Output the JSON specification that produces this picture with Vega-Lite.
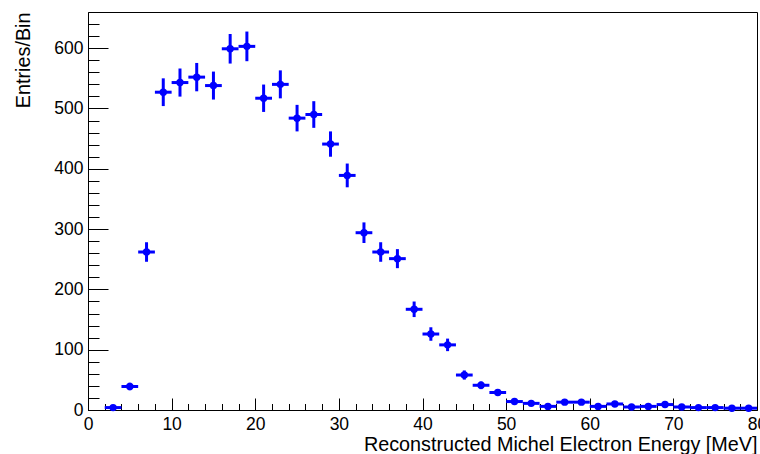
{
  "$schema": "https://vega.github.io/schema/vega-lite/v6.json",
  "width": 669,
  "height": 398,
  "autosize": {"type": "none"},
  "padding": {"left": 88, "top": 12, "right": 3, "bottom": 44},
  "background": "white",
  "config": {
    "font": "Liberation Sans",
    "view": {"stroke": "#000", "strokeWidth": 1},
    "axis": {
      "domainColor": "#000",
      "domainWidth": 1,
      "tickColor": "#000",
      "tickWidth": 1,
      "labelColor": "#000",
      "titleColor": "#000",
      "labelFont": "Liberation Sans",
      "titleFont": "Liberation Sans",
      "labelFontSize": 17.5,
      "titleFontSize": 19.8,
      "titleFontWeight": "normal",
      "grid": false
    }
  },
  "data": {
    "values": [
      {"e": 3, "elo": 2, "ehi": 4, "n": 4, "err": 2.0},
      {"e": 5, "elo": 4, "ehi": 6, "n": 39, "err": 6.2},
      {"e": 7, "elo": 6, "ehi": 8, "n": 262, "err": 16.2},
      {"e": 9, "elo": 8, "ehi": 10, "n": 527, "err": 23.0},
      {"e": 11, "elo": 10, "ehi": 12, "n": 543, "err": 23.3},
      {"e": 13, "elo": 12, "ehi": 14, "n": 552, "err": 23.5},
      {"e": 15, "elo": 14, "ehi": 16, "n": 538, "err": 23.2},
      {"e": 17, "elo": 16, "ehi": 18, "n": 599, "err": 24.5},
      {"e": 19, "elo": 18, "ehi": 20, "n": 603, "err": 24.6},
      {"e": 21, "elo": 20, "ehi": 22, "n": 517, "err": 22.7},
      {"e": 23, "elo": 22, "ehi": 24, "n": 540, "err": 23.2},
      {"e": 25, "elo": 24, "ehi": 26, "n": 484, "err": 22.0},
      {"e": 27, "elo": 26, "ehi": 28, "n": 490, "err": 22.1},
      {"e": 29, "elo": 28, "ehi": 30, "n": 441, "err": 21.0},
      {"e": 31, "elo": 30, "ehi": 32, "n": 389, "err": 19.7},
      {"e": 33, "elo": 32, "ehi": 34, "n": 294, "err": 17.1},
      {"e": 35, "elo": 34, "ehi": 36, "n": 262, "err": 16.2},
      {"e": 37, "elo": 36, "ehi": 38, "n": 251, "err": 15.8},
      {"e": 39, "elo": 38, "ehi": 40, "n": 167, "err": 12.9},
      {"e": 41, "elo": 40, "ehi": 42, "n": 126, "err": 11.2},
      {"e": 43, "elo": 42, "ehi": 44, "n": 108, "err": 10.4},
      {"e": 45, "elo": 44, "ehi": 46, "n": 58, "err": 7.6},
      {"e": 47, "elo": 46, "ehi": 48, "n": 41, "err": 6.4},
      {"e": 49, "elo": 48, "ehi": 50, "n": 29, "err": 5.4},
      {"e": 51, "elo": 50, "ehi": 52, "n": 14, "err": 3.7},
      {"e": 53, "elo": 52, "ehi": 54, "n": 11, "err": 3.3},
      {"e": 55, "elo": 54, "ehi": 56, "n": 6, "err": 2.4},
      {"e": 57, "elo": 56, "ehi": 58, "n": 13, "err": 3.6},
      {"e": 59, "elo": 58, "ehi": 60, "n": 13, "err": 3.6},
      {"e": 61, "elo": 60, "ehi": 62, "n": 6, "err": 2.4},
      {"e": 63, "elo": 62, "ehi": 64, "n": 10, "err": 3.2},
      {"e": 65, "elo": 64, "ehi": 66, "n": 5, "err": 2.2},
      {"e": 67, "elo": 66, "ehi": 68, "n": 6, "err": 2.4},
      {"e": 69, "elo": 68, "ehi": 70, "n": 9, "err": 3.0},
      {"e": 71, "elo": 70, "ehi": 72, "n": 5, "err": 2.2},
      {"e": 73, "elo": 72, "ehi": 74, "n": 4, "err": 2.0},
      {"e": 75, "elo": 74, "ehi": 76, "n": 4, "err": 2.0},
      {"e": 77, "elo": 76, "ehi": 78, "n": 3, "err": 1.7},
      {"e": 79, "elo": 78, "ehi": 80, "n": 3, "err": 1.7}
    ]
  },
  "layer": [
    {
      "mark": {"type": "errorbar", "color": "#0000ff", "thickness": 3},
      "encoding": {
        "x": {
          "field": "e", "type": "quantitative",
          "scale": {"domain": [0, 80], "nice": false, "zero": false},
          "axis": {
            "orient": "bottom",
            "values": [0, 10, 20, 30, 40, 50, 60, 70, 80],
            "tickSize": -12,
            "labelPadding": 17,
            "labelFlush": false,
            "labelOverlap": false,
            "title": "Reconstructed Michel Electron Energy [MeV]",
            "titleAnchor": "end",
            "titlePadding": 2
          }
        },
        "y": {
          "field": "n", "type": "quantitative",
          "scale": {"domain": [0, 660], "nice": false},
          "axis": {
            "orient": "left",
            "values": [0, 100, 200, 300, 400, 500, 600],
            "tickSize": -20,
            "labelPadding": 25,
            "labelFlush": false,
            "labelOverlap": false,
            "title": "Entries/Bin",
            "titleAnchor": "end",
            "titlePadding": 20
          }
        },
        "yError": {"field": "err"}
      }
    },
    {
      "mark": {"type": "rule", "color": "#0000ff", "strokeWidth": 3},
      "encoding": {
        "x": {
          "field": "elo", "type": "quantitative",
          "axis": {
            "orient": "bottom",
            "values": [2, 4, 6, 8, 12, 14, 16, 18, 22, 24, 26, 28, 32, 34, 36, 38, 42, 44, 46, 48, 52, 54, 56, 58, 62, 64, 66, 68, 72, 74, 76, 78],
            "tickSize": -6.5,
            "labels": false,
            "domain": false,
            "title": null
          }
        },
        "x2": {"field": "ehi"},
        "y": {
          "field": "n", "type": "quantitative",
          "axis": {
            "orient": "left",
            "values": [20, 40, 60, 80, 120, 140, 160, 180, 220, 240, 260, 280, 320, 340, 360, 380, 420, 440, 460, 480, 520, 540, 560, 580, 620, 640],
            "tickSize": -11,
            "labels": false,
            "domain": false,
            "title": null
          }
        }
      }
    },
    {
      "mark": {"type": "circle", "color": "#0000ff", "size": 55, "opacity": 1},
      "encoding": {
        "x": {"field": "e", "type": "quantitative", "axis": null},
        "y": {"field": "n", "type": "quantitative", "axis": null}
      }
    }
  ],
  "resolve": {"axis": {"x": "independent", "y": "independent"}}
}
